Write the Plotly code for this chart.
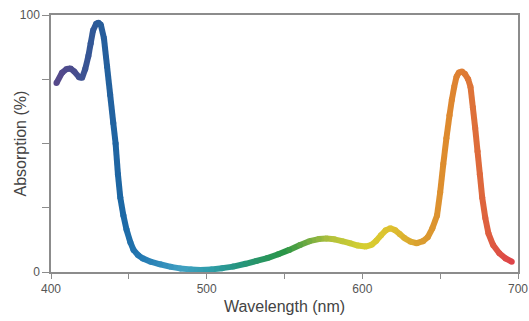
import plotly.graph_objects as go
from plotly.colors import sample_colorscale

# ---- data ----
wavelength = [403.5, 407, 410, 412.5, 415, 418, 420, 422, 424, 425.5, 427, 429, 430.5, 432, 434, 436,
              438, 440, 441.5, 443, 444.5, 446.5, 448.5, 451, 453, 456, 459, 464, 470, 477, 483, 490,
              496, 503, 510, 517, 525, 532, 539, 546, 553, 560, 566, 572, 577, 582, 587, 592, 597,
              602, 606, 609, 612, 615, 618, 621, 624, 627, 631, 635, 639, 642, 645, 648, 650, 652,
              654, 656, 657.5, 659, 660.5, 662, 664, 666, 668, 669.5, 671, 672.5, 674, 675.5, 677,
              679, 681, 684, 688, 692, 696]
absorption = [73.5, 77.5, 79.0, 79.2, 78.0, 75.8, 75.6, 79, 84, 89, 94, 96.6, 97, 96.2, 91, 80,
              69, 58, 50, 38, 29, 22, 16.5, 11.5, 8.6, 6.5, 5.3, 4.0, 3.0, 2.0, 1.4, 1.0,
              0.8, 1.0, 1.5, 2.1, 3.2, 4.3, 5.4, 6.9, 8.6, 10.5, 12.0, 12.8, 13.0, 12.7, 12.0, 11.2, 10.3,
              9.9, 10.6, 12.2, 14.3, 16.2, 17.0, 16.3, 14.8, 13.2, 11.8, 11.2, 12.0, 13.5, 17.0, 22, 31, 42,
              52, 61, 67, 72, 76, 77.6, 78, 77, 75, 72, 64, 56, 47, 38, 29,
              21, 15, 10.5, 7.3, 5.3, 4.0]

x_tickvals = [400, 450, 500, 550, 600, 650, 700]
x_ticktext = ["400", "", "500", "", "600", "", "700"]
y_tickvals = [0, 25, 50, 75, 100]
y_ticktext = ["0", "", "", "", "100"]
x_title = "Wavelength (nm)"
y_title = "Absorption (%)"

# ---- style ----
WL_MIN, WL_MAX = 400, 700
spectrum_scale = [
    [0.00, "#5a488a"],
    [0.05, "#484d8e"],
    [0.10, "#2a5b99"],
    [0.15, "#1c67a4"],
    [0.20, "#257cb4"],
    [0.28, "#40a0c2"],
    [0.34, "#2f9daa"],
    [0.40, "#26957f"],
    [0.50, "#2a9547"],
    [0.56, "#80b040"],
    [0.60, "#b4c23c"],
    [0.67, "#d6cf30"],
    [0.73, "#dec030"],
    [0.79, "#da9e30"],
    [0.85, "#de8a2e"],
    [0.90, "#de7438"],
    [0.95, "#de5642"],
    [1.00, "#de3e4c"],
]
LINE_W = 6
FONT = "Liberation Sans, Arial, sans-serif"

fig = go.Figure()
n = len(wavelength)
for i in range(n - 1):
    mid = (wavelength[i] + wavelength[i + 1]) / 2
    c = sample_colorscale(spectrum_scale, [(mid - WL_MIN) / (WL_MAX - WL_MIN)])[0]
    fig.add_trace(go.Scatter(
        x=[wavelength[i], wavelength[i + 1]], y=[absorption[i], absorption[i + 1]],
        mode="lines", line=dict(color=c, width=LINE_W), hoverinfo="skip", showlegend=False))

pt_colors = sample_colorscale(spectrum_scale, [(w - WL_MIN) / (WL_MAX - WL_MIN) for w in wavelength])
fig.add_trace(go.Scatter(
    x=wavelength, y=absorption, mode="markers",
    marker=dict(color=pt_colors, size=LINE_W, line=dict(width=0)),
    showlegend=False))

axis_common = dict(
    showgrid=False, zeroline=False, showline=True, mirror=True, automargin=False,
    linecolor="#8c8c8c", linewidth=1.5,
    ticks="outside", tickcolor="#8c8c8c", tickwidth=1,
    tickfont=dict(family=FONT, size=12, color="#555555"),
)

fig.update_layout(
    width=529, height=321,
    margin=dict(l=51, r=11, t=15, b=49),
    paper_bgcolor="white", plot_bgcolor="white",
    xaxis=dict(range=[WL_MIN, WL_MAX], tickmode="array", tickvals=x_tickvals, ticktext=x_ticktext,
               ticklen=5,
               title=dict(text=x_title, standoff=6,
                          font=dict(family=FONT, size=16, color="#444444")),
               **axis_common),
    yaxis=dict(range=[0, 100], tickmode="array", tickvals=y_tickvals, ticktext=y_ticktext,
               ticklen=7, **axis_common),
    annotations=[dict(text=y_title, textangle=-90, xref="paper", yref="paper",
                      x=0, y=0.5, xanchor="center", yanchor="middle", xshift=-31,
                      showarrow=False, font=dict(family=FONT, size=16, color="#444444"))],
)

fig.write_html("out.html", config={"displayModeBar": False},
               post_script="document.body.style.margin='0';document.body.style.overflow='hidden';")
